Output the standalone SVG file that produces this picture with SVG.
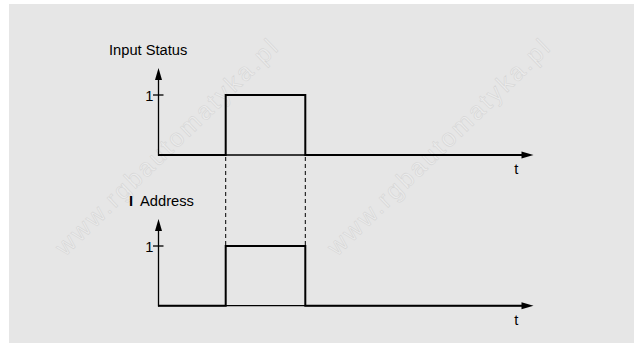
<svg xmlns="http://www.w3.org/2000/svg" width="634" height="343" viewBox="0 0 634 343">
<style>
.lbl{font-family:"Liberation Sans",Arial,Helvetica,sans-serif;font-size:14.7px;fill:#000}
.wm{font-family:"Liberation Sans",Arial,sans-serif;font-size:25px;fill:#ebebeb;stroke:#d6d6d6;stroke-width:0.6}
.axis{stroke:#000;stroke-width:1.3;fill:none}
.sig{stroke:#000;stroke-width:2;fill:none;stroke-linejoin:miter}
.dash{stroke:#000;stroke-width:1;stroke-dasharray:4 3;fill:none}
.head{fill:#000}
</style>
<rect x="0" y="0" width="634" height="343" fill="#ffffff"/>
<rect x="9" y="4" width="625" height="339" fill="#e6e6e6"/>
<g id="watermarks">
<text class="wm" transform="translate(65,257) rotate(-44)" textLength="298" lengthAdjust="spacing">www.rgbautomatyka.pl</text>
<text class="wm" transform="translate(337,257) rotate(-44)" textLength="298" lengthAdjust="spacing">www.rgbautomatyka.pl</text>
</g>
<g id="input-status">
<text class="lbl" x="109" y="55.3">Input Status</text>
<line class="axis" x1="158.5" y1="155.7" x2="158.5" y2="78"/>
<polygon class="head" points="158.5,68 155,80 162,80"/>
<line class="axis" x1="153" y1="95" x2="163.5" y2="95"/>
<text class="lbl" x="153.5" y="100.7" text-anchor="end">1</text>
<line class="axis" x1="158.5" y1="155" x2="523" y2="155"/>
<path class="sig" d="M158,155 H225.7 V95 H305.3 V155 H523"/>
<polygon class="head" points="533.5,155 521.5,151.5 521.5,158.5"/>
<text class="lbl" x="516.4" y="174" text-anchor="middle">t</text>
</g>
<g id="i-address">
<text class="lbl" x="129" y="205.7"><tspan font-weight="bold">I</tspan><tspan x="140">Address</tspan></text>
<line class="axis" x1="158.5" y1="306.4" x2="158.5" y2="229"/>
<polygon class="head" points="158.5,219 155,231 162,231"/>
<line class="axis" x1="153" y1="246" x2="163.5" y2="246"/>
<text class="lbl" x="153.5" y="251.7" text-anchor="end">1</text>
<line class="axis" x1="158.5" y1="305.7" x2="523" y2="305.7"/>
<path class="sig" d="M158,305.7 H225.7 V246 H305.3 V305.7 H523"/>
<polygon class="head" points="533.5,305.7 521.5,302.2 521.5,309.2"/>
<text class="lbl" x="516.4" y="325.3" text-anchor="middle">t</text>
</g>
<g id="connectors">
<line class="dash" x1="225.7" y1="157" x2="225.7" y2="245"/>
<line class="dash" x1="305.3" y1="157" x2="305.3" y2="245"/>
</g>
</svg>
